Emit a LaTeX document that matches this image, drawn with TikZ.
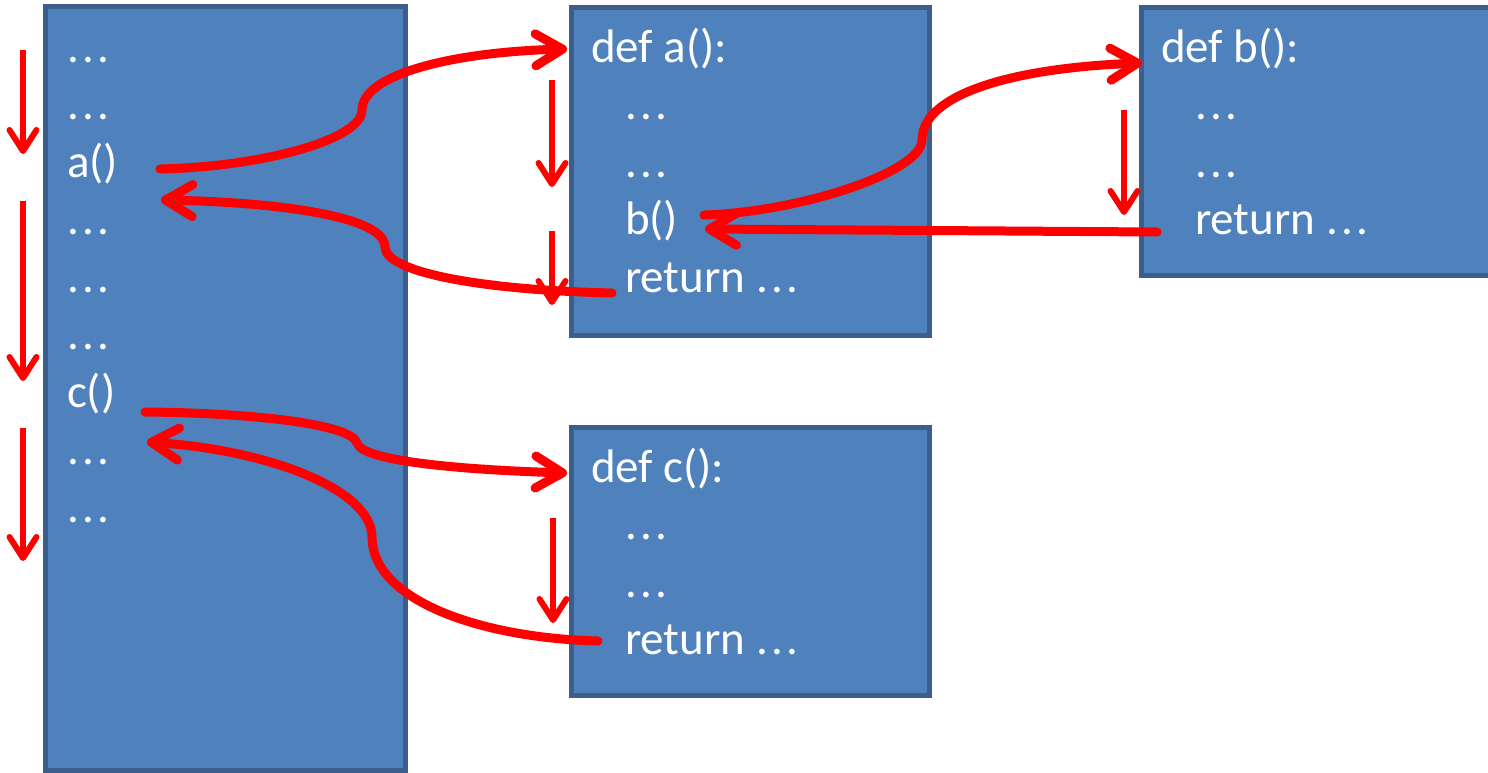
\documentclass[tikz,border=0pt]{standalone}
\usepackage{fontspec}
\setmainfont{Carlito}
\usetikzlibrary{arrows.meta}
\definecolor{boxfill}{HTML}{4F81BD}
\definecolor{boxline}{HTML}{3B5E8C}
\definecolor{flow}{HTML}{FF0000}
\newcommand\dotz{.\kern3.2pt.\kern3.2pt.}
\begin{document}
\begin{tikzpicture}[x=1pt,y=-1pt,
  box/.style={draw=boxline, fill=boxfill, line width=5pt},
  code/.style={anchor=base west, inner sep=0pt, outer sep=0pt, text=white, font=\fontsize{47}{56}\selectfont},
  call/.style={draw=flow, line width=9pt, line cap=round, -{Straight Barb[length=27pt,width=32pt,round]}},
  seq/.style={draw=flow, line width=6pt, -{Straight Barb[length=21pt,width=27pt,round]}}]
\useasboundingbox (0,0) rectangle (1488,772);
% boxes
\draw[box] (45.5,6.5) rectangle (405.5,770);
\draw[box] (571.5,7.5) rectangle (929,335.5);
\draw[box] (1141.5,7.5) rectangle (1500,275.5);
\draw[box] (571.5,427.5) rectangle (929,695.5);
% main program text
\node[code] (m1) at (67,62) {\dotz};
\node[code] (m2) at (67,119.5) {\dotz};
\node[code] (m3) at (67,177) {a()};
\node[code] (m4) at (67,234.5) {\dotz};
\node[code] (m5) at (67,292) {\dotz};
\node[code] (m6) at (67,349.5) {\dotz};
\node[code] (m7) at (67,407) {c()};
\node[code] (m8) at (67,464.5) {\dotz};
\node[code] (m9) at (67,522) {\dotz};
% function a
\node[code] (a0) at (591,62) {def a():};
\node[code] (a1) at (625,119.5) {\dotz};
\node[code] (a2) at (625,177) {\dotz};
\node[code] (a3) at (625,234.5) {b()};
\node[code] (a4) at (625,292) {return \dotz};
% function b
\node[code] (b0) at (1161,62) {def b():};
\node[code] (b1) at (1195,119.5) {\dotz};
\node[code] (b2) at (1195,177) {\dotz};
\node[code] (b3) at (1195,234.5) {return \dotz};
% function c
\node[code] (c0) at (591,482) {def c():};
\node[code] (c1) at (625,539.5) {\dotz};
\node[code] (c2) at (625,597) {\dotz};
\node[code] (c3) at (625,654.5) {return \dotz};
% sequence arrows
\coordinate (s1a) at (23,50);  \coordinate (s1b) at (23,154);
\coordinate (s2a) at (23,201); \coordinate (s2b) at (23,381);
\coordinate (s3a) at (23,428); \coordinate (s3b) at (23,561);
\coordinate (s4a) at (552,80); \coordinate (s4b) at (552,187);
\coordinate (s5a) at (552,231); \coordinate (s5b) at (552,305);
\coordinate (s6a) at (1124,110); \coordinate (s6b) at (1124,215);
\coordinate (s7a) at (553,518); \coordinate (s7b) at (553,623);
\draw[seq] (s1a) -- (s1b);
\draw[seq] (s2a) -- (s2b);
\draw[seq] (s3a) -- (s3b);
\draw[seq] (s4a) -- (s4b);
\draw[seq] (s5a) -- (s5b);
\draw[seq] (s6a) -- (s6b);
\draw[seq] (s7a) -- (s7b);
% call / return connectors
\coordinate (acall) at (160,169);  \coordinate (aentry) at (567,49);
\coordinate (aret) at (612,293);   \coordinate (aback) at (161,200);
\coordinate (bcall) at (704,215);  \coordinate (bentry) at (1142,63);
\coordinate (bret) at (1157,232);  \coordinate (bback) at (705,229);
\coordinate (ccall) at (145,412);  \coordinate (centry) at (567,473);
\coordinate (cret) at (598,641);   \coordinate (cback) at (147,442);
\draw[call] (acall) .. controls (260,167) and (362,140) .. (362,110)
  .. controls (362,75) and (450,52) .. (aentry);
\draw[call] (aret) .. controls (480,290) and (385,272) .. (385,247)
  .. controls (385,215) and (270,202) .. (aback);
\draw[call] (bcall) .. controls (800,212) and (922,172) .. (922,140)
  .. controls (922,95) and (1010,68) .. (bentry);
\draw[call] (bret) -- (bback);
\draw[call] (ccall) .. controls (260,413) and (352,425) .. (357,443)
  .. controls (362,462) and (470,470) .. (centry);
\draw[call] (cret) .. controls (480,638) and (372,600) .. (372,537)
  .. controls (372,490) and (270,450) .. (cback);
\end{tikzpicture}
\end{document}
